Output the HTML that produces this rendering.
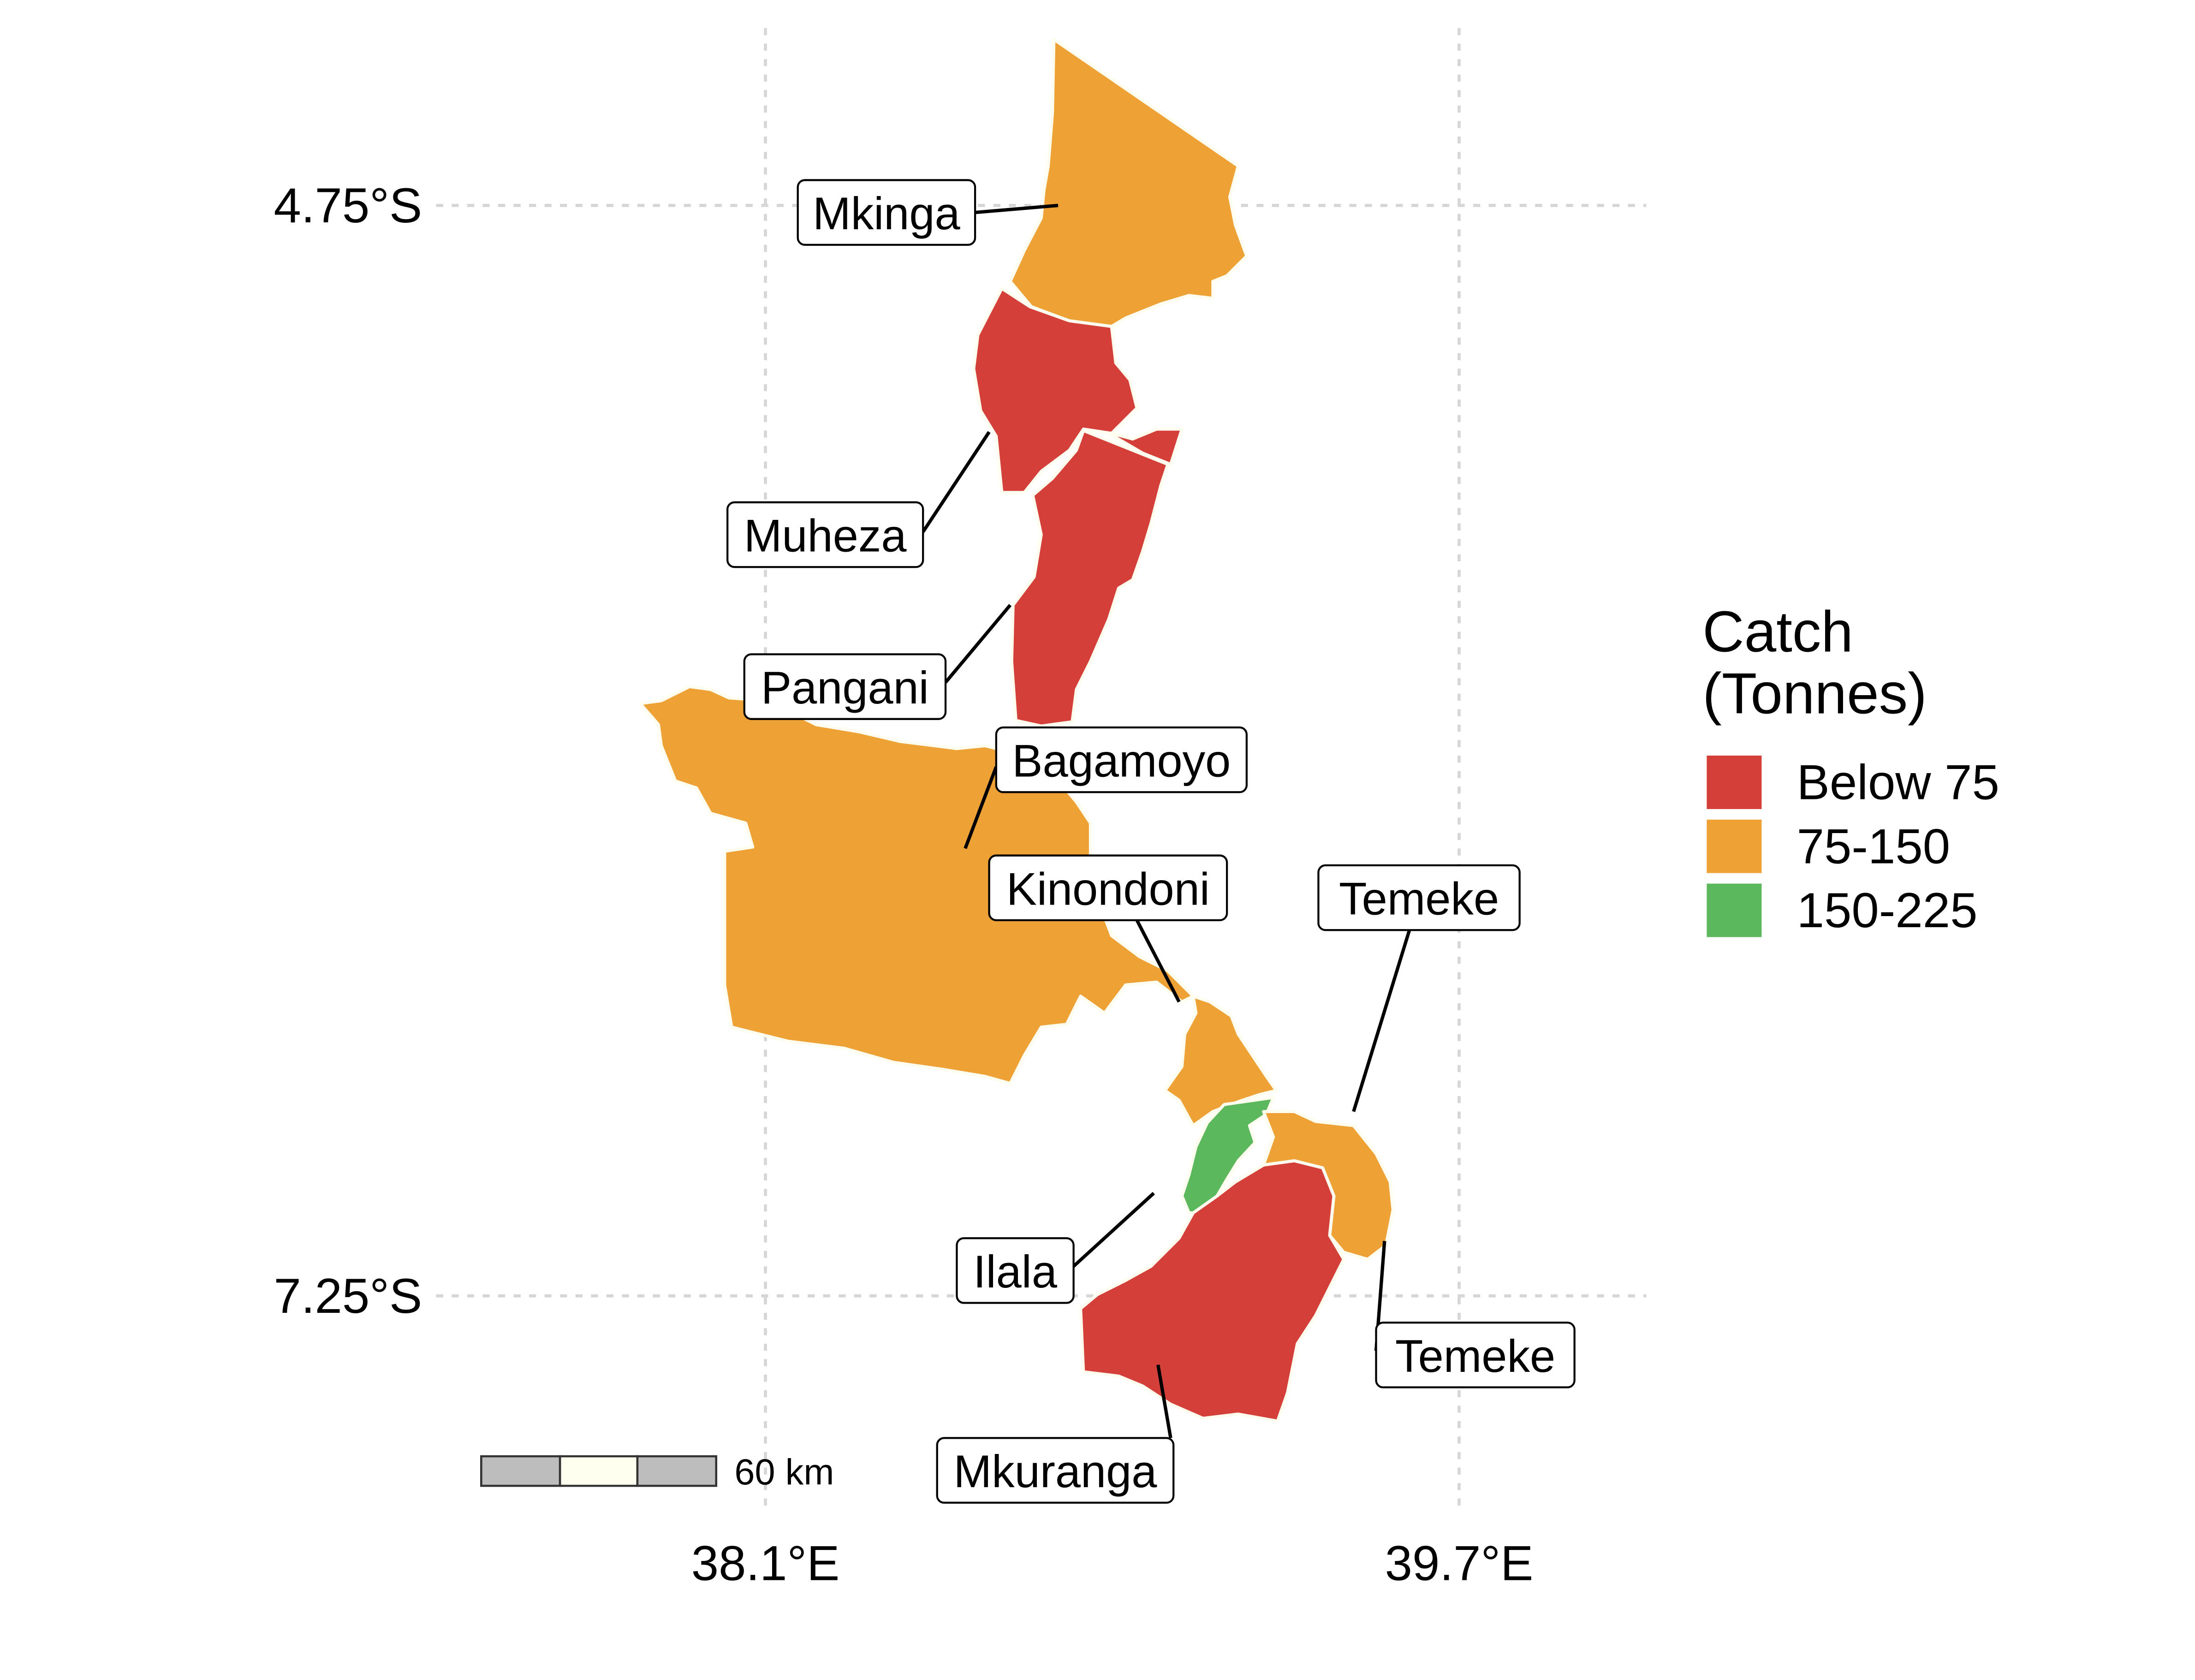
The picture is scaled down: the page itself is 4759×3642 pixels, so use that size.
<!DOCTYPE html>
<html><head><meta charset="utf-8"><style>
html,body{margin:0;padding:0;background:#fff}
svg{display:block}
text{font-family:"Liberation Sans",sans-serif;fill:#000}
</style></head><body>
<svg id="chart" width="4759" height="3642" viewBox="0 0 1560 1194" preserveAspectRatio="none" xmlns="http://www.w3.org/2000/svg">
<g stroke="#d6d6d6" stroke-width="2.2" stroke-dasharray="5,6" fill="none">
<line x1="544" y1="20" x2="544" y2="1075"/>
<line x1="1037" y1="20" x2="1037" y2="1075"/>
<line x1="310" y1="146" x2="1170" y2="146"/>
<line x1="310" y1="921" x2="1170" y2="921"/>
</g>
<g id="regions" stroke="#fffdf0" stroke-width="2.2" stroke-linejoin="round"></g>
<g font-size="35">
<text x="300" y="158" text-anchor="end">4.75°S</text>
<text x="300" y="933" text-anchor="end">7.25°S</text>
<text x="544" y="1123" text-anchor="middle">38.1°E</text>
<text x="1037" y="1123" text-anchor="middle">39.7°E</text>
</g>
<g id="labels"></g>
<g stroke="#333" stroke-width="1.5">
<rect x="342" y="1035" width="56" height="21" fill="#bdbdbd"/>
<rect x="398" y="1035" width="55" height="21" fill="#fffff0"/>
<rect x="453" y="1035" width="56" height="21" fill="#bdbdbd"/>
</g>
<text x="522" y="1055" font-size="26">60 km</text>
<g>
<text x="1210" y="463" font-size="41">Catch</text>
<text x="1210" y="507" font-size="41">(Tonnes)</text>
<g id="legend-keys"></g>
</g>
</svg>
<script>
const categories = ["Below 75", "75-150", "150-225"];
const categoryColors = ["#D43F3A", "#EEA236", "#5CB85C"];
const districts = ["Mkinga", "Muheza", "Muheza-east", "Pangani", "Bagamoyo", "Kinondoni", "Ilala", "Temeke", "Mkuranga"];
const districtCategory = [1, 0, 0, 0, 1, 1, 2, 1, 0];
const shapes = [
"M749,28 L880,118 L874,140 L878,160 L886,182 L872,196 L862,200 L862,212 L845,210 L825,216 L800,226 L790,232 L760,228 L733,218 L718,200 L728,178 L740,155 L742,135 L745,118 L748,80 Z",
"M712,205 L732,218 L760,228 L790,232 L793,258 L803,270 L808,290 L798,300 L790,308 L770,305 L760,320 L740,335 L728,350 L712,350 L708,310 L697,292 L692,262 L695,238 Z",
"M770,305 L788,308 L812,322 L832,330 L840,305 L822,305 L805,312 L790,308 Z",
"M770,306 L800,318 L830,330 L825,345 L818,372 L812,392 L805,412 L795,418 L788,440 L775,470 L765,490 L762,513 L740,516 L722,512 L719,470 L720,430 L735,410 L740,380 L734,352 L748,340 L765,320 Z",
"M455,500 L470,498 L490,488 L505,490 L518,496 L545,498 L560,505 L580,515 L610,520 L640,527 L680,532 L700,530 L740,540 L765,570 L775,585 L775,625 L790,665 L810,680 L830,690 L848,708 L840,712 L822,698 L800,700 L785,720 L768,708 L758,728 L740,730 L728,750 L718,770 L700,765 L670,760 L635,755 L600,745 L560,740 L520,730 L515,700 L515,605 L535,602 L530,585 L505,578 L495,560 L480,555 L470,530 L468,515 Z",
"M848,708 L860,712 L875,722 L880,735 L890,750 L900,765 L907,775 L895,778 L880,783 L862,790 L848,800 L838,782 L828,775 L840,758 L842,735 L850,720 Z",
"M870,785 L905,780 L900,792 L888,800 L892,812 L880,825 L872,838 L865,850 L860,862 L845,862 L840,850 L845,835 L850,815 L858,798 Z",
"M898,790 L920,790 L935,797 L962,800 L978,820 L988,840 L990,860 L985,885 L972,895 L955,890 L945,878 L948,850 L940,830 L920,825 L898,828 L905,808 Z",
"M898,828 L920,825 L940,830 L948,850 L945,878 L955,895 L945,915 L935,935 L922,955 L915,990 L908,1010 L880,1005 L855,1008 L832,998 L812,985 L795,978 L770,975 L768,930 L780,920 L800,910 L818,900 L838,880 L848,862 L865,850 L878,840 Z"
];
const labelNames = ["Mkinga","Muheza","Pangani","Bagamoyo","Kinondoni","Temeke","Ilala","Temeke","Mkuranga"];
const labelBoxes = [[567,128,126],[517,357,139],[529,465,143],[708,517,178],[703,608,169],[937,615,143],[680,880,83],[978,940,141],[666,1022,168]];
const leaders = [[693,151,752,146],[656,378,703,307],[672,485,718,430],[708,545,686,603],[808,654,838,712],[1002,660,962,790],[763,900,820,848],[978,960,984,882],[832,1022,823,970]];
const NS = "http://www.w3.org/2000/svg";
const reg = document.getElementById("regions");
districts.forEach((d,i)=>{
  const p = document.createElementNS(NS,"path");
  p.setAttribute("d", shapes[i]);
  p.setAttribute("fill", categoryColors[districtCategory[i]]);
  
  
  reg.appendChild(p);
});
const lab = document.getElementById("labels");
labelNames.forEach((n,i)=>{
  const [x1,y1,x2,y2] = leaders[i];
  const l = document.createElementNS(NS,"line");
  l.setAttribute("x1",x1);l.setAttribute("y1",y1);l.setAttribute("x2",x2);l.setAttribute("y2",y2);
  l.setAttribute("stroke","#000");l.setAttribute("stroke-width","2.4");
  
  
  lab.appendChild(l);
  const [bx,by,bw] = labelBoxes[i];
  const r = document.createElementNS(NS,"rect");
  r.setAttribute("x",bx);r.setAttribute("y",by);r.setAttribute("width",bw);r.setAttribute("height",46);
  r.setAttribute("rx",5);r.setAttribute("fill","#fff");r.setAttribute("stroke","#000");r.setAttribute("stroke-width","1.4");
  
  
  lab.appendChild(r);
  const t = document.createElementNS(NS,"text");
  t.setAttribute("x",bx+bw/2);t.setAttribute("y",by+35);t.setAttribute("text-anchor","middle");t.setAttribute("font-size","32.5");
  t.textContent = n;
  
  
  lab.appendChild(t);
});
const lk = document.getElementById("legend-keys");
categories.forEach((c,i)=>{
  const y = 537 + i*45.5;
  const r = document.createElementNS(NS,"rect");
  r.setAttribute("x",1213);r.setAttribute("y",y);r.setAttribute("width",39);r.setAttribute("height",38);
  r.setAttribute("fill",categoryColors[i]);
  
  
  lk.appendChild(r);
  const t = document.createElementNS(NS,"text");
  t.setAttribute("x",1277);t.setAttribute("y",y+31);t.setAttribute("font-size","35");
  t.textContent = c;
  
  
  lk.appendChild(t);
});
</script>
</body></html>
